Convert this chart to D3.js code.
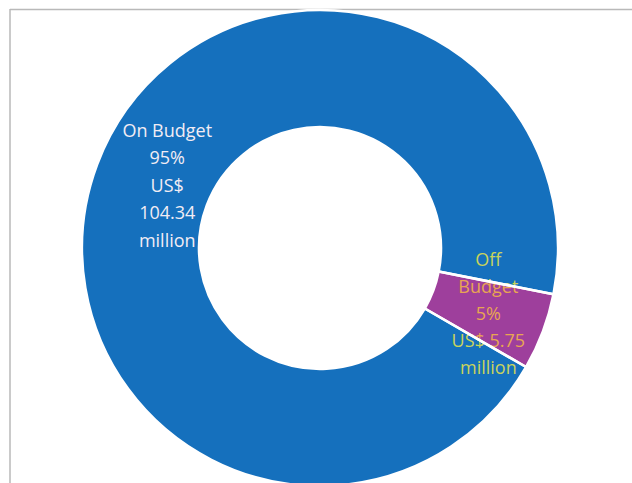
<!DOCTYPE html>
<html>
<head>
<meta charset="utf-8">
<script src="https://cdn.jsdelivr.net/npm/d3@7"></script>
<style>
  html, body { margin: 0; padding: 0; background: #ffffff; }
  svg { display: block; }
</style>
</head>
<body>
<svg id="chart" width="632" height="483"></svg>
<script>
// Budget split, US$ million
const categories = ["On Budget", "Off Budget"];
const values = [104.34, 5.75];
const sliceColors = ["#1570bd", "#9e3f9c"];
// label text colour where it sits on each slice: [on own slice, on neighbour]
const labelColors = [
  ["#f1ecf4", "#f1ecf4"],
  ["#e8a552", "#c9d35c"]
];

const W = 632, H = 483;
const cx = 320, cy = 248;
const outerR = 238, innerR = 121;

const svg = d3.select("#chart");

// frame lines (top and left)
svg.append("line").attr("x1", 10).attr("y1", 9.5).attr("x2", W).attr("y2", 9.5)
  .attr("stroke", "#b9b9b9").attr("stroke-width", 1.5);
svg.append("line").attr("x1", 10).attr("y1", 9).attr("x2", 10).attr("y2", H)
  .attr("stroke", "#b9b9b9").attr("stroke-width", 1.5);

const total = d3.sum(values);
const data = categories.map((c, i) => ({ name: c, value: values[i], index: i }));

const pie = d3.pie()
  .value(d => d.value)
  .sort(null)
  .startAngle(120 * Math.PI / 180)
  .endAngle(480 * Math.PI / 180);

const arcs = pie(data);
const arc = d3.arc().innerRadius(innerR).outerRadius(outerR);

const g = svg.append("g").attr("transform", `translate(${cx},${cy})`);

// clip paths: one per slice
const defs = svg.append("defs");
arcs.forEach((a, i) => {
  defs.append("clipPath").attr("id", "slice-clip-" + i)
    .append("path").attr("d", arc(a));
});

// slice fills
g.selectAll("path.slice")
  .data(arcs)
  .join("path")
  .attr("class", "slice")
  .attr("d", arc)
  .attr("fill", (d, i) => sliceColors[i]);

// label lines built from the data
const pctFmt = v => Math.round(v / total * 100) + "%";
function labelLines(d) {
  const pct = pctFmt(d.value);
  if (d.index === 0) {
    return [d.name, pct, "US$", d.value.toFixed(2), "million"];
  }
  const words = d.name.split(" ");
  return [words[0], words[1], pct, "US$ " + d.value.toFixed(2), "million"];
}

const labelRadius = [160, 182];
const labelNudge = [[-3, 0], [-2, 8]];
const lineH = [27.5, 27];
const fontSize = 18;

arcs.forEach((a, i) => {
  const la = d3.arc().innerRadius(labelRadius[i]).outerRadius(labelRadius[i]);
  const [cxL, cyL] = la.centroid(a);
  const lx = cxL + labelNudge[i][0];
  const ly = cyL + labelNudge[i][1];
  const lines = labelLines(a.data);
  const top = ly - (lines.length - 1) * lineH[i] / 2;

  // draw the label once per slice, clipped so its colour follows the slice beneath
  arcs.forEach((b, j) => {
    const t = g.append("g").attr("clip-path", `url(#slice-clip-${j})`)
      .append("text")
      .attr("text-anchor", "middle")
      .attr("font-family", "'Open Sans', sans-serif")
      .attr("font-size", fontSize)
      .attr("fill", labelColors[i][i === j ? 0 : 1]);
    lines.forEach((s, k) => {
      t.append("tspan").attr("x", lx).attr("y", top + k * lineH[i]).text(s);
    });
  });
});

// white separators between slices, on top of the labels
g.selectAll("path.sep")
  .data(arcs)
  .join("path")
  .attr("class", "sep")
  .attr("d", arc)
  .attr("fill", "none")
  .attr("stroke", "#ffffff")
  .attr("stroke-width", 2.5)
  .attr("stroke-linejoin", "round");
</script>
</body>
</html>
